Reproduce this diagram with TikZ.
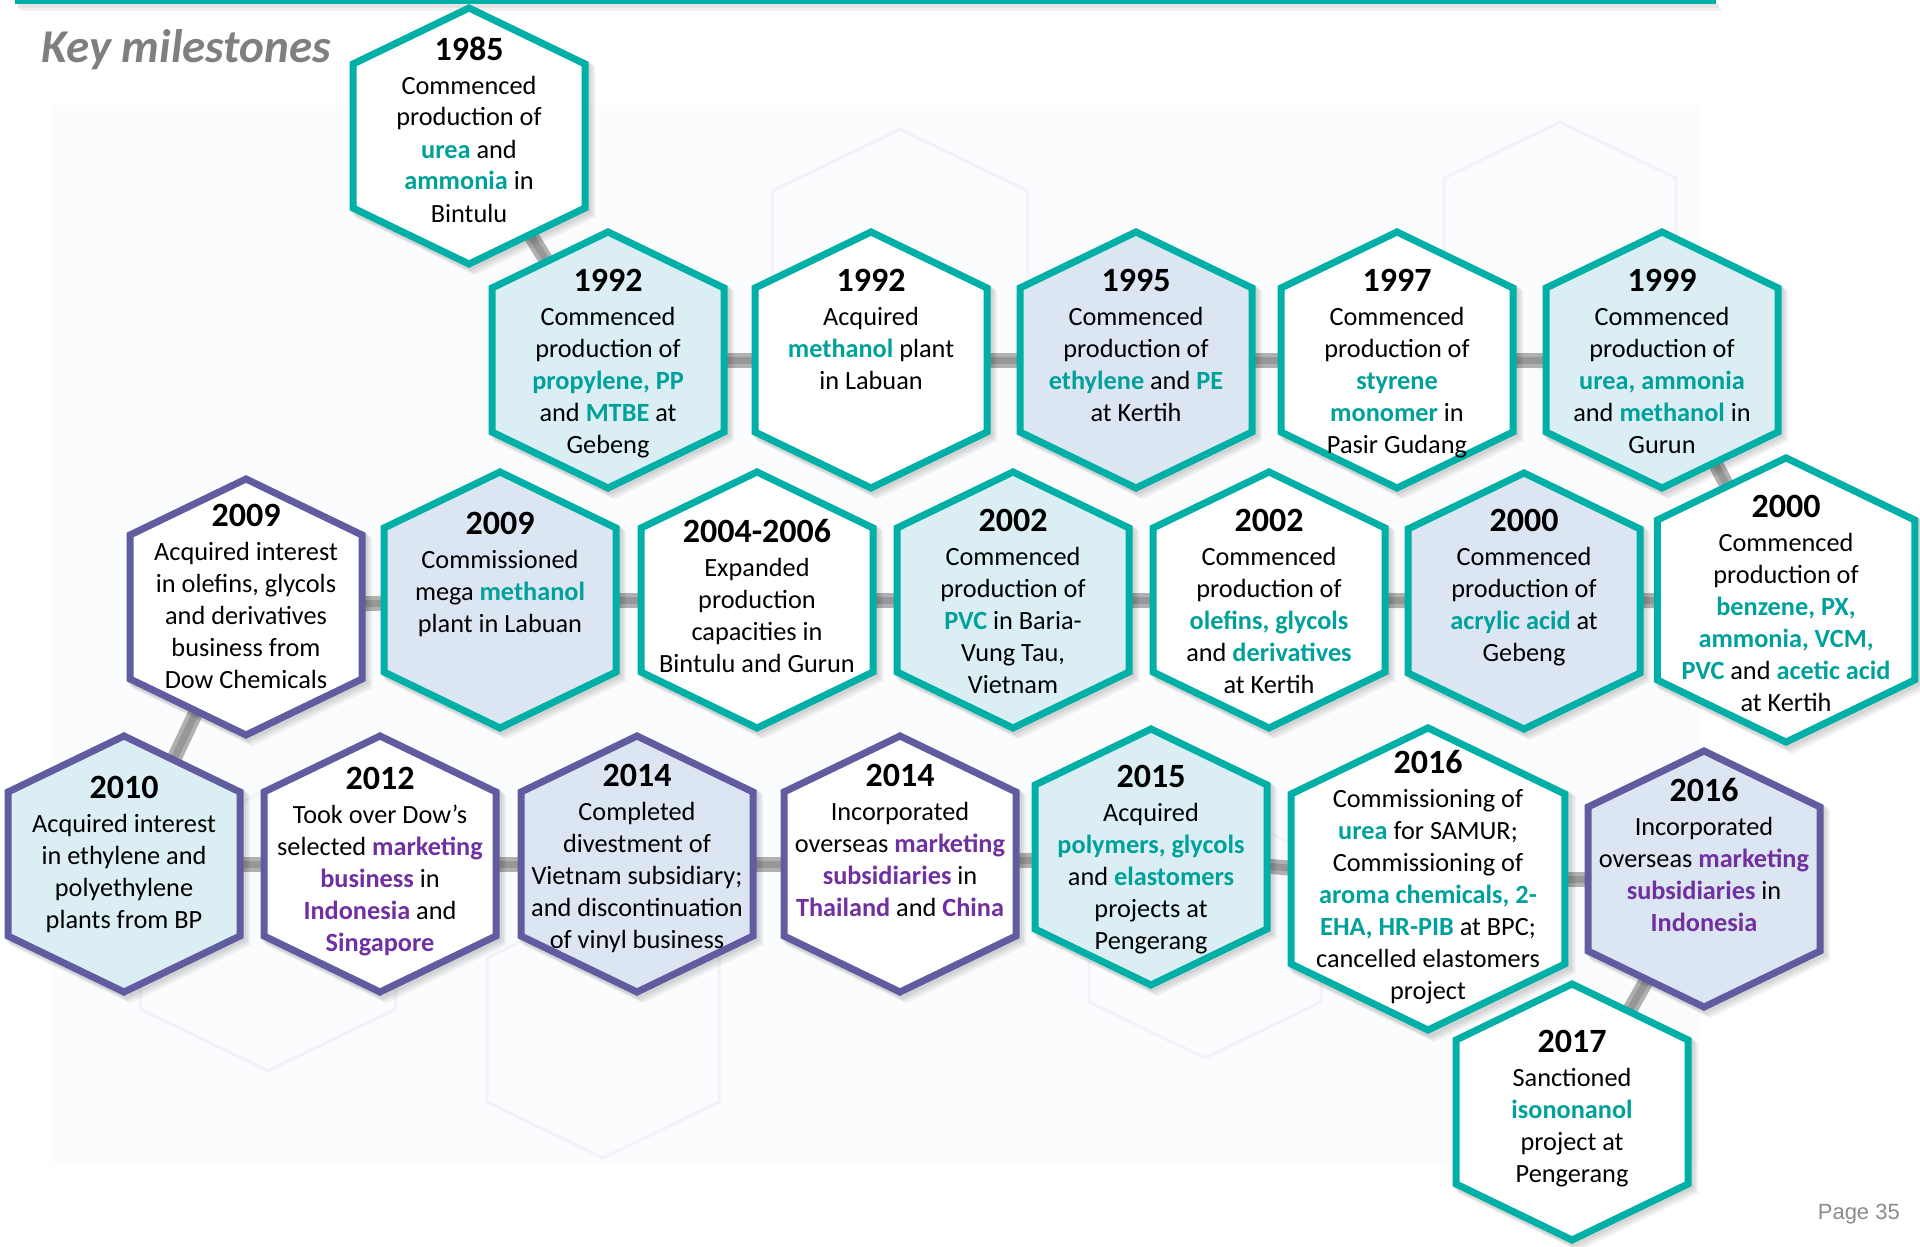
\documentclass[tikz,border=0pt]{standalone}
\usepackage{fontspec}
\setmainfont{Carlito}
\newfontfamily\pagefont{Liberation Sans}

\definecolor{tealline}{HTML}{00AFA5}
\definecolor{tealword}{HTML}{00A19B}
\definecolor{purpline}{HTML}{605C9F}
\definecolor{purpword}{HTML}{7030A0}
\definecolor{cyanfill}{HTML}{DAEEF3}
\definecolor{bluefill}{HTML}{DCE6F2}
\definecolor{titlegray}{HTML}{7F7F7F}
\definecolor{pagegray}{HTML}{8C8C8C}
\definecolor{linklight}{HTML}{B0B0B0}
\definecolor{linkdark}{HTML}{979797}
\definecolor{panelfill}{HTML}{FBFCFD}
\definecolor{faintline}{HTML}{F1F3F8}

\pgfdeclarelayer{panel}
\pgfdeclarelayer{links}
\pgfsetlayers{panel,links,main}

% highlighted words
\newcommand\hlT[1]{\textcolor{tealword}{\bfseries #1}}
\newcommand\hlP[1]{\textcolor{purpword}{\bfseries #1}}
% centred lines, 32pt apart, baseline = first line
\newcommand\blines[1]{\vtop{\baselineskip=32pt\lineskiplimit=-100pt\lineskip=0pt
  \halign{\hfil##\hfil\cr#1\crcr}}}

\tikzset{
  hexcore/.pic={\path[pic actions] (0,-128) -- (116,-72) -- (116,72) -- (0,128)
      -- (-116,72) -- (-116,-72) -- cycle;},
  hexouter/.pic={\path[pic actions] (0,-133) -- (120,-75) -- (120,75) -- (0,133)
      -- (-120,75) -- (-120,-75) -- cycle;},
  hexhold/.style={shape=rectangle, inner sep=0pt, outer sep=0pt},
  yeartext/.style={anchor=base, inner sep=0pt, font=\fontsize{34}{34}\selectfont\bfseries},
  bodytext/.style={anchor=base, inner sep=0pt, font=\fontsize{26.3}{32}\selectfont},
  linkbase/.style={line width=15pt, draw=linklight},
  linkcore/.style={line width=7pt, draw=linkdark},
}

% #1 name, #2 x, #3 y, #4 scale, #5 border colour, #6 fill colour
\newcommand\milehex[6]{%
  \foreach \k in {2,4,6}{\pic[fill=black, opacity=0.055, scale=#4] at (#2+\k,#3+\k) {hexouter};}
  \pic[draw=#5, fill=#6, line width=7pt, scale=#4] at (#2,#3) {hexcore};
  \node[hexhold, minimum width={240*#4}, minimum height={266*#4}] (#1) at (#2,#3) {};
}
% #1 name, #2 x, #3 baseline of the year, #4 year, #5 lines
\newcommand\miletext[5]{%
  \node[yeartext] (#1-year) at (#2,#3) {#4};
  \node[bodytext] (#1-text) at (#2,#3+34) {\blines{#5}};
}

\begin{document}
\begin{tikzpicture}[x=1pt, y=-1pt]
\useasboundingbox (0,0) rectangle (1920,1247);

% page ground and faint backdrop panel
\begin{pgfonlayer}{panel}
  \fill[white] (0,0) rectangle (1920,1247);
  \fill[panelfill] (52,105) rectangle (1700,1164);
  \foreach \cx/\cy/\s in {268/930/1.1, 603/1030/1.0, 1205/930/1.0, 900/270/1.1, 1560/250/1.0}
    {\pic[draw=faintline, line width=3pt, scale=\s] at (\cx,\cy) {hexcore};}
\end{pgfonlayer}

% top rule
\fill[black, opacity=0.10] (18,4) rectangle (1719,8);
\fill[black, opacity=0.05] (20,8) rectangle (1721,11);
\fill[tealline] (15,0) rectangle (1716,4.5);

\node[anchor=base west, inner sep=0pt, text=titlegray,
      font=\fontsize{47}{47}\selectfont\bfseries\itshape] (title) at (41.6,62.5) {Key milestones};
\node[anchor=base east, inner sep=0pt, text=pagegray,
      font=\pagefont\fontsize{22}{22}\selectfont] (page) at (1900,1219) {Page 35};

% ---- top row ----
\milehex{m1985}{469}{136}{1}{tealline}{white}
\miletext{m1985}{469}{60}{1985}{Commenced\cr production of\cr \hlT{urea} and\cr \hlT{ammonia} in\cr Bintulu}

% ---- second row ----
\milehex{m1992a}{608}{360}{1}{tealline}{cyanfill}
\miletext{m1992a}{608}{291}{1992}{Commenced\cr production of\cr \hlT{propylene, PP}\cr and \hlT{MTBE} at\cr Gebeng}
\milehex{m1992b}{871}{360}{1}{tealline}{white}
\miletext{m1992b}{871}{291}{1992}{Acquired\cr \hlT{methanol} plant\cr in Labuan}
\milehex{m1995}{1136}{360}{1}{tealline}{bluefill}
\miletext{m1995}{1136}{291}{1995}{Commenced\cr production of\cr \hlT{ethylene} and \hlT{PE}\cr at Kertih}
\milehex{m1997}{1397}{360}{1}{tealline}{white}
\miletext{m1997}{1397}{291}{1997}{Commenced\cr production of\cr \hlT{styrene}\cr \hlT{monomer} in\cr Pasir Gudang}
\milehex{m1999}{1662}{360}{1}{tealline}{cyanfill}
\miletext{m1999}{1662}{291}{1999}{Commenced\cr production of\cr \hlT{urea, ammonia}\cr and \hlT{methanol} in\cr Gurun}

% ---- third row ----
\milehex{m2009a}{246}{607}{1}{purpline}{white}
\miletext{m2009a}{246}{526}{2009}{Acquired interest\cr in olefins, glycols\cr and derivatives\cr business from\cr Dow Chemicals}
\milehex{m2009b}{500}{600}{1}{tealline}{bluefill}
\miletext{m2009b}{500}{534}{2009}{Commissioned\cr mega \hlT{methanol}\cr plant in Labuan}
\milehex{m2004}{757}{600}{1}{tealline}{white}
\miletext{m2004}{757}{542}{2004-2006}{Expanded\cr production\cr capacities in\cr Bintulu and Gurun}
\milehex{m2002a}{1013}{600}{1}{tealline}{cyanfill}
\miletext{m2002a}{1013}{531}{2002}{Commenced\cr production of\cr \hlT{PVC} in Baria-\cr Vung Tau,\cr Vietnam}
\milehex{m2002b}{1269}{600}{1}{tealline}{white}
\miletext{m2002b}{1269}{531}{2002}{Commenced\cr production of\cr \hlT{olefins, glycols}\cr and \hlT{derivatives}\cr at Kertih}
\milehex{m2000a}{1524}{601}{1}{tealline}{bluefill}
\miletext{m2000a}{1524}{531}{2000}{Commenced\cr production of\cr \hlT{acrylic acid} at\cr Gebeng}
\milehex{m2000b}{1786}{600}{1.11}{tealline}{white}
\miletext{m2000b}{1786}{517}{2000}{Commenced\cr production of\cr \hlT{benzene, PX,}\cr \hlT{ammonia, VCM,}\cr \hlT{PVC} and \hlT{acetic acid}\cr at Kertih}

% ---- bottom row ----
\milehex{m2010}{124}{864}{1}{purpline}{cyanfill}
\miletext{m2010}{124}{798}{2010}{Acquired interest\cr in ethylene and\cr polyethylene\cr plants from BP}
\milehex{m2012}{380}{864}{1}{purpline}{white}
\miletext{m2012}{380}{789}{2012}{Took over Dow’s\cr selected \hlP{marketing}\cr \hlP{business} in\cr \hlP{Indonesia} and\cr \hlP{Singapore}}
\milehex{m2014a}{637}{864}{1}{purpline}{bluefill}
\miletext{m2014a}{637}{786}{2014}{Completed\cr divestment of\cr Vietnam subsidiary;\cr and discontinuation\cr of vinyl business}
\milehex{m2014b}{900}{864}{1}{purpline}{white}
\miletext{m2014b}{900}{786}{2014}{Incorporated\cr overseas \hlP{marketing}\cr \hlP{subsidiaries} in\cr \hlP{Thailand} and \hlP{China}}
\milehex{m2015}{1151}{857}{1}{tealline}{cyanfill}
\miletext{m2015}{1151}{787}{2015}{Acquired\cr \hlT{polymers, glycols}\cr and \hlT{elastomers}\cr projects at\cr Pengerang}
\milehex{m2016a}{1428}{879}{1.18}{tealline}{white}
\miletext{m2016a}{1428}{773}{2016}{Commissioning of\cr \hlT{urea} for SAMUR;\cr Commissioning of\cr \hlT{aroma chemicals, 2-}\cr \hlT{EHA, HR-PIB} at BPC;\cr cancelled elastomers\cr project}
\milehex{m2016b}{1704}{879}{1}{purpline}{bluefill}
\miletext{m2016b}{1704}{801}{2016}{Incorporated\cr overseas \hlP{marketing}\cr \hlP{subsidiaries} in\cr \hlP{Indonesia}}
\milehex{m2017}{1572}{1112}{1}{tealline}{white}
\miletext{m2017}{1572}{1052}{2017}{Sanctioned\cr \hlT{isononanol}\cr project at\cr Pengerang}

% ---- timeline links, behind the cells ----
\begin{pgfonlayer}{links}
  \foreach \a/\b in {m1985/m1992a, m1992a/m1992b, m1992b/m1995, m1995/m1997, m1997/m1999,
                     m1999/m2000b, m2000b/m2000a, m2000a/m2002b, m2002b/m2002a, m2002a/m2004,
                     m2004/m2009b, m2009b/m2009a, m2009a/m2010, m2010/m2012, m2012/m2014a,
                     m2014a/m2014b, m2014b/m2015, m2015/m2016a, m2016a/m2016b, m2016b/m2017}
  {\draw[linkbase] (\a.center) -- (\b.center);
   \draw[linkcore] (\a.center) -- (\b.center);}
\end{pgfonlayer}
\end{tikzpicture}
\end{document}
